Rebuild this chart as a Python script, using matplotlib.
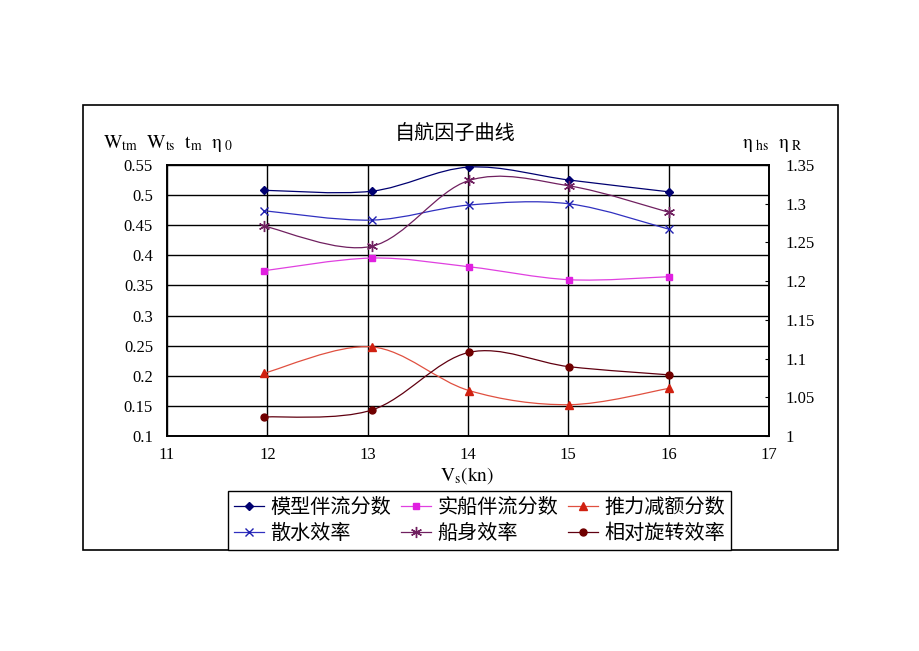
import numpy as np
import matplotlib
matplotlib.use("Agg")
import matplotlib.pyplot as plt
from matplotlib.path import Path
from matplotlib.patches import PathPatch, Rectangle
from matplotlib.lines import Line2D

plt.rcParams['font.family'] = ['Liberation Serif', 'Noto Sans CJK SC', 'DejaVu Sans']
plt.rcParams['mathtext.fontset'] = 'stix'

# 航速 (kn)
speed = [11.97, 13.04, 14.01, 15.01, 16.0]

# 左轴
w_tm = [0.508, 0.5065, 0.5465, 0.525, 0.5055]      # 模型伴流分数
w_ts = [0.3745, 0.3955, 0.381, 0.3595, 0.3645]     # 实船伴流分数
t_m = [0.2045, 0.248, 0.1755, 0.152, 0.179]        # 推力减额分数
eta_0 = [0.474, 0.4585, 0.4835, 0.4855, 0.4435]    # 散水效率

# 右轴
eta_hs = [1.271, 1.245, 1.330, 1.323, 1.289]       # 船身效率
eta_r = [1.0245, 1.0335, 1.108, 1.0895, 1.079]     # 相对旋转效率

names = ['模型伴流分数', '实船伴流分数', '推力减额分数', '散水效率', '船身效率', '相对旋转效率']


def smooth_path(x, y):
    # excel 风格的平滑曲线: 三次贝塞尔, 控制点取相邻点差的 1/6
    p = np.column_stack([x, y])
    n = len(p)
    verts = [p[0]]
    codes = [Path.MOVETO]
    for i in range(n - 1):
        prev = p[i - 1] if i > 0 else p[i]
        nxt = p[i + 2] if i + 2 < n else p[i + 1]
        c1 = p[i] + (p[i + 1] - prev) / 6.0
        c2 = p[i + 1] - (nxt - p[i]) / 6.0
        verts += [c1, c2, p[i + 1]]
        codes += [Path.CURVE4] * 3
    return Path(verts, codes)


def draw(ax, x, y, color, lcolor, marker, ms, mew=1.0):
    ax.add_patch(PathPatch(smooth_path(x, y), fill=False, edgecolor=lcolor, lw=0.9, zorder=3))
    ax.plot(x, y, ls='none', marker=marker, color=color, ms=ms, mew=mew, zorder=4)
    return Line2D([], [], color=lcolor, lw=0.9, marker=marker, mfc=color, mec=color, ms=ms, mew=mew)


fig = plt.figure(figsize=(9.2, 6.51), dpi=100)
ax = fig.add_axes([167 / 920, 1 - 436 / 651, 602 / 920, 271 / 651])
ax2 = ax.twinx()

h_model = draw(ax, speed, w_tm, '#000070', '#000070', 'D', 4)
h_ship = draw(ax, speed, w_ts, '#E020E0', '#E040E0', 's', 5)
h_thrust = draw(ax, speed, t_m, '#D02010', '#E05040', '^', 6)
h_open = draw(ax, speed, eta_0, '#2020B0', '#3030C0', 'x', 6)
h_hull = draw(ax2, speed, eta_hs, '#702060', '#702060', (6, 2, 0), 8)
h_rot = draw(ax2, speed, eta_r, '#700000', '#600010', 'o', 5)

ax.set_xlim(11, 17)
ax.set_ylim(0.1, 0.55)
ax.set_xticks(np.arange(11, 17.5, 1))
ax.set_yticks(np.arange(0.1, 0.551, 0.05))
ax.set_yticklabels(['0.1', '0.15', '0.2', '0.25', '0.3', '0.35', '0.4', '0.45', '0.5', '0.55'])
ax2.set_ylim(1.0, 1.35)
ax2.set_yticks(np.arange(1.0, 1.351, 0.05))
ax2.set_yticklabels(['1', '1.05', '1.1', '1.15', '1.2', '1.25', '1.3', '1.35'])

ax.grid(True, color='black', lw=1.0)
ax.set_axisbelow(True)
ax.tick_params(axis='both', length=0, labelsize=12)
ax.tick_params(axis='x', pad=8)
ax.tick_params(axis='y', pad=10)
ax2.tick_params(axis='y', direction='in', length=3, width=0.8, labelsize=12, pad=12)
for a in (ax, ax2):
    for s in a.spines.values():
        s.set_linewidth(1.2)
        s.set_color('black')

fig.text(455 / 920, 1 - 133 / 651, '自航因子曲线', ha='center', va='center', fontsize=14.5,
         family=['Noto Sans CJK SC'])
fig.text(103 / 920, 1 - 143 / 651, r'$\mathrm{W_{tm}\ \ W_{ts}\ \ t_{m}\ \ \eta_{\ 0}}$',
         ha='left', va='center', fontsize=14)
fig.text(742 / 920, 1 - 145 / 651, r'$\mathrm{\eta_{\ hs}\ \ \eta_{\ R}}$',
         ha='left', va='center', fontsize=14)
fig.text(467 / 920, 1 - 476 / 651, r'$\mathrm{V_{s}(kn)}$', ha='center', va='center', fontsize=14)

# 图表外框
fig.patches.append(Rectangle((83.5 / 920, 1 - 550 / 651), 754.5 / 920, 445 / 651, fill=False,
                             edgecolor='black', lw=1.2, transform=fig.transFigure, figure=fig))

handles = [h_model, h_open, h_ship, h_hull, h_thrust, h_rot]
labels = [names[0], names[3], names[1], names[4], names[2], names[5]]
leg = fig.legend(handles, labels, ncol=3, loc='lower center',
                 bbox_to_anchor=(479.5 / 920, 1 - 550 / 651),
                 prop={'family': ['Noto Sans CJK SC'], 'size': 14.5},
                 frameon=True, fancybox=False, edgecolor='black', framealpha=1,
                 handlelength=1.5, handletextpad=0.3, columnspacing=0.5,
                 borderpad=0.3, labelspacing=0.25, borderaxespad=0)
leg.get_frame().set_linewidth(1.0)

fig.savefig('out.png', dpi=100)
